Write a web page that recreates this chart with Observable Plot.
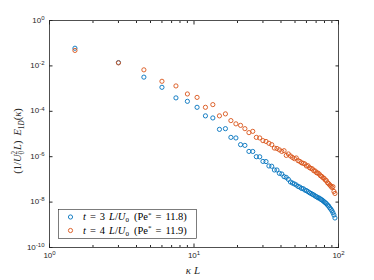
<!DOCTYPE html>
<html><head><meta charset="utf-8">
<script src="https://cdn.jsdelivr.net/npm/d3@7"></script>
<script src="https://cdn.jsdelivr.net/npm/@observablehq/plot@0.6"></script>
<style>body{margin:0;background:#fff}</style>
</head><body><div id="chart"></div>
<script>
const kappaL = [1.5,3,4.5,6,7.5,9,10.5,12,13.5,15,16.5,18,19.5,21,22.5,24,25.5,27,28.5,30,31.5,33,34.5,36,37.5,39,40.5,42,43.5,45,46.5,48,49.5,51,52.5,54,55.5,57,58.5,60,61.5,63,64.5,66,67.5,69,70.5,72,73.5,75,76.5,78,79.5,81,82.5,84,85.5,87,88.5,90,91.5,93,94.5];
const E_t3 = [6.0e-2,1.4e-2,3.2e-3,1.14e-3,3.9e-4,2.75e-4,1.5e-4,6.3e-5,5.1e-5,1.6e-5,
  1.72e-5,7.1e-6,6.7e-6,3.4e-6,3.15e-6,1.71e-6,1.7e-6,1.0e-6,9.9e-7,6.2e-7,
  6.1e-7,3.9e-7,3.8e-7,2.6e-7,2.6e-7,1.84e-7,1.73e-7,1.32e-7,1.22e-7,1.0e-7,
  7.7e-8,6.9e-8,6.3e-8,5.7e-8,4.9e-8,4.6e-8,4.0e-8,3.9e-8,3.4e-8,3.2e-8,
  2.9e-8,2.6e-8,2.4e-8,2.2e-8,2.05e-8,1.85e-8,1.72e-8,1.56e-8,1.51e-8,1.36e-8,
  1.27e-8,1.15e-8,1.04e-8,9.4e-9,8.5e-9,7.4e-9,6.7e-9,5.6e-9,4.9e-9,4.2e-9,
  3.4e-9,2.7e-9,2.0e-9];
const E_t4 = [4.8e-2,1.36e-2,6.7e-3,2.1e-3,1.31e-3,5.8e-4,4.1e-4,1.5e-4,1.97e-4,6.3e-5,
  7.7e-5,3.9e-5,2.8e-5,2.4e-5,1.72e-5,1.15e-5,1.31e-5,7.1e-6,6.7e-6,5.1e-6,
  4.7e-6,3.9e-6,3.4e-6,2.4e-6,2.3e-6,2.0e-6,1.71e-6,1.84e-6,1.14e-6,1.32e-6,
  1.08e-6,9.3e-7,8.2e-7,8.8e-7,6.7e-7,6.2e-7,5.4e-7,5.1e-7,4.8e-7,3.9e-7,
  4.0e-7,3.3e-7,3.05e-7,2.9e-7,2.4e-7,2.35e-7,1.97e-7,1.91e-7,1.73e-7,1.46e-7,
  1.36e-7,1.19e-7,1.11e-7,9.4e-8,8.8e-8,7.1e-8,6.5e-8,5.7e-8,5.1e-8,4.4e-8,
  4.8e-8,2.95e-8,2.4e-8];
const xMajorTicks = [1,10,100];
const xMinorTicks = [2,3,4,5,6,7,8,9,20,30,40,50,60,70,80,90];
const yTicks = [1e-10,1e-8,1e-6,1e-4,1e-2,1];
const seriesColors = ["#0072BD","#D95319"];
const legendT = ["3","4"];
const legendPe = ["11.8","11.9"];

const rows = [];
kappaL.forEach((k,i)=>rows.push({k, E:E_t3[i], s:0}));
kappaL.forEach((k,i)=>rows.push({k, E:E_t4[i], s:1}));

const axisColor = "#262626";
const fmt = d => `10^${Math.round(Math.log10(d))}`;

const chart = Plot.plot({
  width: 374, height: 280,
  marginLeft: 49, marginRight: 36, marginTop: 20, marginBottom: 33,
  x: {type: "log", domain: [1, 100]},
  y: {type: "log", domain: [1e-10, 1]},
  style: {fontFamily: "'Liberation Sans', Arial, sans-serif", fontSize: "8px", color: axisColor, background: "#fff", overflow: "visible"},
  marks: [
    Plot.axisX({anchor: "bottom", ticks: xMinorTicks, tickSize: -2, tickFormat: () => "", label: null}),
    Plot.axisX({anchor: "top", ticks: xMinorTicks, tickSize: -2, tickFormat: () => "", label: null}),
    Plot.axisX({anchor: "bottom", ticks: xMajorTicks, tickSize: -3.5, tickFormat: () => "", label: null}),
    Plot.axisX({anchor: "top", ticks: xMajorTicks, tickSize: -3.5, tickFormat: () => "", label: null}),
    Plot.axisX({anchor: "bottom", ticks: xMajorTicks, tickSize: 0, tickPadding: 5, tickFormat: fmt, label: null}),
    Plot.axisY({anchor: "left", ticks: yTicks, tickSize: -3.5, tickFormat: () => "", label: null}),
    Plot.axisY({anchor: "right", ticks: yTicks, tickSize: -3.5, tickFormat: () => "", label: null}),
    Plot.axisY({anchor: "left", ticks: yTicks, tickSize: 0, tickPadding: 12, tickFormat: fmt, label: null}),
    Plot.frame({stroke: axisColor, strokeWidth: 0.8}),
    Plot.dot(rows, {x: "k", y: "E", r: 2.1, fill: "none", strokeWidth: 0.9,
      stroke: d => seriesColors[d.s]})
  ]
});

const svg = d3.select(chart);
// superscript tick labels
svg.selectAll("text").each(function(){
  const t = this.textContent;
  const m = t.match(/^10\^(-?\d+)$/);
  if (!m) return;
  const el = d3.select(this);
  el.text(null);
  el.append("tspan").text("10");
  el.append("tspan").attr("dy", "-0.45em").attr("font-size", "6px").text(m[1]);
});
svg.selectAll('g[aria-label="y-axis tick label"] text').attr("text-anchor", "end").attr("dx", null);
svg.selectAll('g[aria-label="y-axis tick label"]').attr("transform", "translate(-4.5,0)");

const serif = "'Liberation Serif', 'Times New Roman', serif";
// x label
const xl = svg.append("text").attr("x", 193).attr("y", 274).attr("text-anchor", "middle")
  .attr("font-family", serif).attr("font-size", 11).attr("fill", axisColor);
xl.append("tspan").attr("font-style", "italic").text("κ");
xl.append("tspan").attr("font-style", "italic").attr("dx", 3).text("L");

// y label
const yl = svg.append("text").attr("transform", "translate(21,141) rotate(-90)").attr("text-anchor", "middle")
  .attr("font-family", serif).attr("font-size", 10.5).attr("fill", axisColor);
yl.append("tspan").text("(1/");
yl.append("tspan").attr("font-style", "italic").text("U");
yl.append("tspan").attr("font-size", 7.2).attr("dy", 2.5).text("0");
yl.append("tspan").attr("font-size", 7.2).attr("dy", -7).attr("dx", -3.6).text("2");
yl.append("tspan").attr("font-style", "italic").attr("dy", 4.5).attr("dx", 1).text("L");
yl.append("tspan").text(")");
yl.append("tspan").attr("font-style", "italic").attr("dx", 5).text("E");
yl.append("tspan").attr("font-size", 7.2).attr("dy", 2.5).text("1");
yl.append("tspan").attr("font-size", 7.2).attr("font-style", "italic").text("D");
yl.append("tspan").attr("dy", -2.5).text("(");
yl.append("tspan").attr("font-style", "italic").text("κ");
yl.append("tspan").text(")");

// legend
const lg = svg.append("g").attr("text-anchor", "start");
lg.append("rect").attr("x", 58.5).attr("y", 209.5).attr("width", 138).attr("height", 29)
  .attr("fill", "#fff").attr("stroke", axisColor).attr("stroke-width", 0.6);
[0,1].forEach(i => {
  const cy = 217 + i * 13.5;
  lg.append("circle").attr("cx", 70.5).attr("cy", cy).attr("r", 2.1).attr("fill", "none")
    .attr("stroke", seriesColors[i]).attr("stroke-width", 0.9);
  const t = lg.append("text").attr("x", 83).attr("y", cy + 3.4).attr("font-family", serif)
    .attr("font-size", 10.5).attr("fill", "#000").attr("text-anchor", "start");
  t.append("tspan").attr("font-style", "italic").text("t");
  t.append("tspan").attr("dx", 4).text("=");
  t.append("tspan").attr("dx", 4).text(`${legendT[i]}`);
  t.append("tspan").attr("font-style", "italic").attr("dx", 4).text("L");
  t.append("tspan").text("/");
  t.append("tspan").attr("font-style", "italic").text("U");
  t.append("tspan").attr("font-size", 7).attr("dy", 2).text("0");
  t.append("tspan").attr("dy", -2).attr("dx", 5).text("(Pe");
  t.append("tspan").attr("font-size", 7).attr("dy", -3.5).text("*");
  t.append("tspan").attr("dy", 3.5).attr("dx", 4).text("=");
  t.append("tspan").attr("dx", 4).text(`${legendPe[i]})`);
});

document.getElementById("chart").appendChild(chart);
</script>
</body></html>
